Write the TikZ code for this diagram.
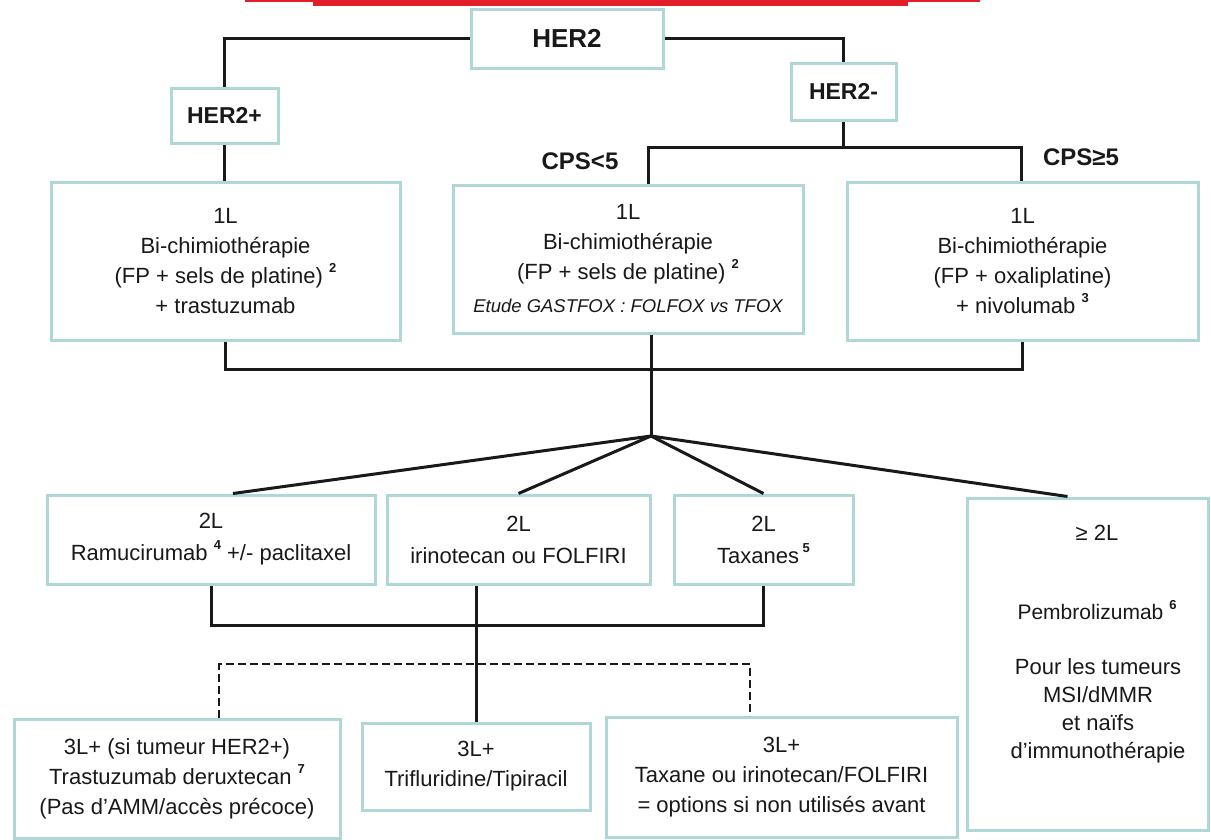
\documentclass[tikz,border=0pt]{standalone}
\usepackage{fontspec}
\setmainfont{Liberation Sans}
\definecolor{boxc}{RGB}{175,215,215}
\definecolor{redbar}{RGB}{226,30,40}
\definecolor{txt}{RGB}{25,25,25}
\newcommand{\supnum}[1]{\raisebox{0.5em}{\fontsize{13}{13}\selectfont\bfseries #1}}
\begin{document}
\begin{tikzpicture}[x=1pt,y=-1pt,
  box/.style={draw=boxc,line width=3pt,inner sep=0pt,align=center,text=txt,font=\fontsize{22}{30}\selectfont},
  plain/.style={inner sep=0pt,align=center,text=txt,font=\fontsize{22}{30}\selectfont},
  conn/.style={line width=3pt,draw=black!90},
  dashline/.style={line width=2.5pt,draw=black!90,dash pattern=on 8pt off 4pt},
  lab/.style={inner sep=0pt,text=txt,font=\bfseries\fontsize{24}{28}\selectfont}]
\useasboundingbox (0,0) rectangle (1211,839);
\fill[white] (0,0) rectangle (1211,839);
% red band at the top
\fill[redbar] (245,0) rectangle (980,2);
\fill[redbar] (313,0) rectangle (908,6);

% level 0
\node[box,minimum width=192pt,minimum height=59pt,font=\bfseries\fontsize{26}{30}\selectfont] (her2) at (567,38.5) {HER2};
\node[box,minimum width=107pt,minimum height=55pt,font=\bfseries\fontsize{23}{28}\selectfont] (her2p) at (224.5,115.5) {HER2+};
\node[box,minimum width=105pt,minimum height=57pt,font=\bfseries\fontsize{23}{28}\selectfont] (her2m) at (843.5,91.5) {HER2-};

\node[lab] (cpslt) at (580,161) {CPS<5};
\node[lab] (cpsge) at (1081,157) {CPS≥5};

% 1L
\node[box,minimum width=349pt,minimum height=158pt] (l1) at (225.5,261)
  {1L\\Bi-chimiothérapie\\(FP + sels de platine) \supnum{2}\\+ trastuzumab};
\node[box,minimum width=350pt,minimum height=148pt] (l1m) at (628,259)
  {1L\\Bi-chimiothérapie\\(FP + sels de platine) \supnum{2}\\[3pt]{\itshape\fontsize{18.5}{30}\selectfont Etude GASTFOX : FOLFOX vs TFOX}};
\node[box,minimum width=351pt,minimum height=158pt] (l1r) at (1022.5,261)
  {1L\\Bi-chimiothérapie\\(FP + oxaliplatine)\\+ nivolumab \supnum{3}};

% 2L
\node[box,minimum width=328pt,minimum height=89pt,font=\fontsize{22}{32}\selectfont] (r2a) at (211,539.5)
  {2L\\Ramucirumab \supnum{4} +/- paclitaxel};
\node[box,minimum width=263pt,minimum height=89pt,font=\fontsize{22}{32}\selectfont] (r2b) at (518.5,539.5)
  {2L\\irinotecan ou FOLFIRI};
\node[box,minimum width=179pt,minimum height=89pt,font=\fontsize{22}{32}\selectfont] (r2c) at (763.5,539.5)
  {2L\\Taxanes\,\supnum{5}};
\node[box,minimum width=241pt,minimum height=332pt] (ge2) at (1087.5,664) {};
\node[plain] (ge2a) at (1097,533) {≥ 2L};
\node[plain,font=\fontsize{21}{26}\selectfont] (ge2b) at (1097,610) {Pembrolizumab \supnum{6}};
\node[plain,font=\fontsize{22}{28}\selectfont] (ge2c) at (1098,711)
  {Pour les tumeurs\\MSI/dMMR\\et naïfs\\d’immunothérapie};

% 3L
\node[box,minimum width=326pt,minimum height=119pt] (t3a) at (177,778.5)
  {3L+ (si tumeur HER2+)\\Trastuzumab deruxtecan \supnum{7}\\(Pas d’AMM/accès précoce)};
\node[box,minimum width=228pt,minimum height=87pt] (t3b) at (476,766.5)
  {3L+\\Trifluridine/Tipiracil};
\node[box,minimum width=351pt,minimum height=120pt] (t3c) at (781.5,777)
  {3L+\\Taxane ou irinotecan/FOLFIRI\\= options si non utilisés avant};

% connectors
\draw[conn] (her2.west) -| (her2p.north);
\draw[conn] (her2.east) -| (her2m.north);
\draw[conn] (her2p.south) -- (l1.north -| her2p.south);
\coordinate (cpsa) at (648,147);
\coordinate (cpsb) at (1021,147);
\draw[conn] (her2m.south) -- (her2m.south |- cpsa);
\draw[conn] (l1m.north -| cpsa) -- (cpsa) -- (cpsb) -- (l1r.north -| cpsb);

\coordinate (fan) at (651,436);
\draw[conn] (l1.south) -- ++(0,28) -| (l1r.south);
\draw[conn] (l1m.south -| fan) -- (fan);
\draw[conn] (fan) -- ([xshift=22pt]r2a.north);
\draw[conn] (fan) -- (r2b.north);
\draw[conn] (fan) -- (r2c.north);
\draw[conn] (fan) -- ([xshift=-20pt]ge2.north);

\draw[conn] (r2a.south) -- ++(0,40) -| (r2c.south);
\draw[conn] (r2b.south -| t3b.north) -- (t3b.north);

\coordinate (dl) at (219,664);
\coordinate (dr) at (750,664);
\draw[dashline] (t3a.north -| dl) -- (dl) -- (dr) -- (t3c.north -| dr);
\end{tikzpicture}
\end{document}
